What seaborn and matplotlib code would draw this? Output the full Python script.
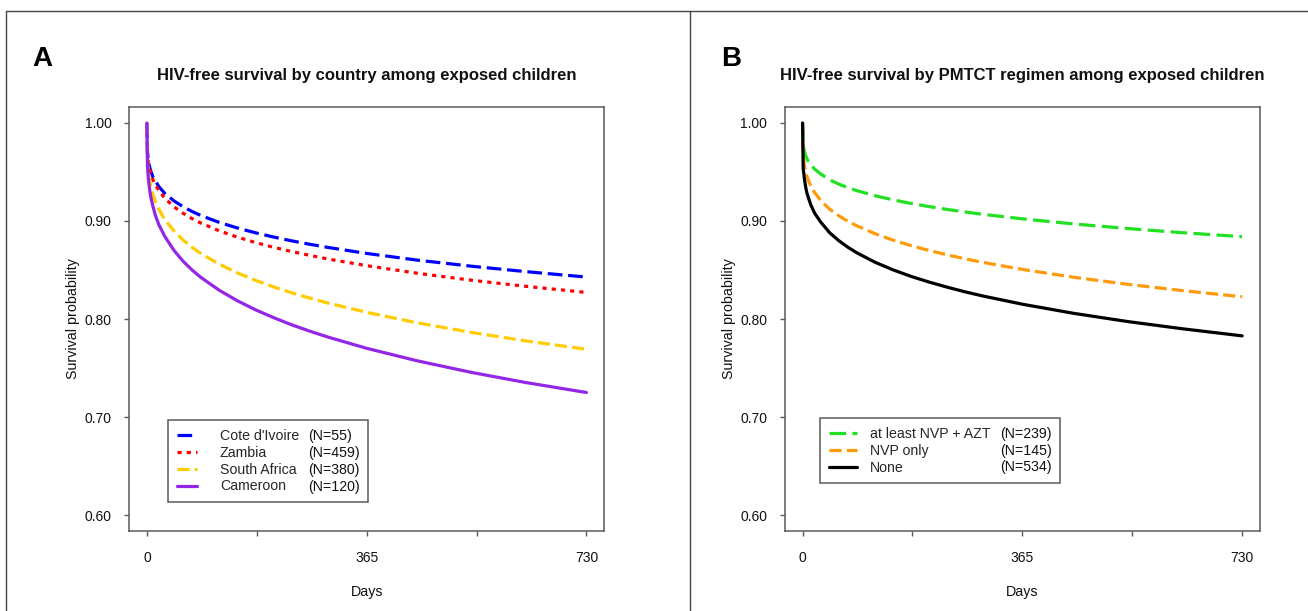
import matplotlib
matplotlib.use("Agg")
import matplotlib.pyplot as plt
import pandas as pd
import seaborn as sns
from matplotlib.lines import Line2D

# ---------------- data ----------------
days = [0, 1, 2, 3, 5, 7, 10, 14, 20, 30, 45, 60, 75, 90, 120, 150, 180, 210,
        240, 270, 300, 365, 450, 540, 630, 730]

# Panel A: HIV-free survival by country
countries = ["Cote d'Ivoire", "Zambia", "South Africa", "Cameroon"]
countries_n = ["(N=55)", "(N=459)", "(N=380)", "(N=120)"]
cote_divoire = [1.000, 0.970, 0.964, 0.960, 0.954, 0.950, 0.945, 0.941, 0.935, 0.928, 0.9205,
                0.9146, 0.9097, 0.9055, 0.8986, 0.8929, 0.8880, 0.8837, 0.8798, 0.8763, 0.8731,
                0.8669, 0.8600, 0.8538, 0.8483, 0.8428]
zambia = [1.000, 0.969, 0.962, 0.958, 0.952, 0.947, 0.942, 0.937, 0.931, 0.923, 0.9145,
          0.9079, 0.9024, 0.8978, 0.8900, 0.8836, 0.8781, 0.8732, 0.8689, 0.8650, 0.8613,
          0.8544, 0.8466, 0.8395, 0.8333, 0.8271]
south_africa = [1.000, 0.962, 0.954, 0.948, 0.940, 0.934, 0.927, 0.920, 0.912, 0.901, 0.8900,
                0.8806, 0.8731, 0.8667, 0.8560, 0.8471, 0.8395, 0.8328, 0.8268, 0.8214, 0.8164,
                0.8068, 0.7960, 0.7862, 0.7776, 0.7691]
cameroon = [1.000, 0.956, 0.947, 0.940, 0.930, 0.923, 0.915, 0.906, 0.896, 0.884, 0.8700,
            0.8590, 0.8500, 0.8423, 0.8294, 0.8187, 0.8095, 0.8015, 0.7942, 0.7877, 0.7817,
            0.7701, 0.7572, 0.7454, 0.7351, 0.7250]

# Panel B: HIV-free survival by PMTCT regimen
regimens = ["at least NVP + AZT", "NVP only", "None"]
regimens_n = ["(N=239)", "(N=145)", "(N=534)"]
nvp_azt = [1.000, 0.978, 0.974, 0.971, 0.967, 0.964, 0.960, 0.957, 0.953, 0.948, 0.9420,
           0.9377, 0.9341, 0.9310, 0.9258, 0.9216, 0.9179, 0.9147, 0.9118, 0.9092, 0.9068,
           0.9022, 0.8970, 0.8923, 0.8881, 0.8840]
nvp_only = [1.000, 0.968, 0.961, 0.957, 0.950, 0.946, 0.941, 0.935, 0.929, 0.921, 0.9120,
            0.9054, 0.8998, 0.8951, 0.8871, 0.8805, 0.8749, 0.8699, 0.8655, 0.8614, 0.8577,
            0.8506, 0.8426, 0.8354, 0.8290, 0.8227]
no_regimen = [1.000, 0.953, 0.949, 0.943, 0.935, 0.929, 0.923, 0.916, 0.908, 0.899, 0.8880,
              0.8800, 0.8733, 0.8676, 0.8580, 0.8502, 0.8435, 0.8377, 0.8325, 0.8277, 0.8234,
              0.8151, 0.8058, 0.7974, 0.7901, 0.7828]

y_ticks = [0.60, 0.70, 0.80, 0.90, 1.00]
y_ticklabels = ["0.60", "0.70", "0.80", "0.90", "1.00"]
x_ticks = [0, 182.5, 365, 547.5, 730]
x_ticklabels = ["0", "", "365", "", "730"]

titles = ["HIV-free survival by country among exposed children",
          "HIV-free survival by PMTCT regimen among exposed children"]
panel_letters = ["A", "B"]

# ---------------- style ----------------
sns.set_style("white")
plt.rcParams["font.family"] = ["Liberation Sans", "DejaVu Sans"]

W, H = 1308, 611
fig = plt.figure(figsize=(W / 100, H / 100), dpi=100)

GRAY = "#5a5a5a"
LW = 2.3

def make_df(names, series):
    rows = []
    for name, vals in zip(names, series):
        for d, v in zip(days, vals):
            rows.append({"day": d, "surv": v, "group": name})
    return pd.DataFrame(rows)

df_a = make_df(countries, [cote_divoire, zambia, south_africa, cameroon])
df_b = make_df(regimens, [nvp_azt, nvp_only, no_regimen])

pal_a = {"Cote d'Ivoire": "#0000ff", "Zambia": "#ff0000",
         "South Africa": "#ffcc00", "Cameroon": "#9426e8"}
dash_a = {"Cote d'Ivoire": (4.6, 1.8), "Zambia": (1.3, 1.6),
          "South Africa": (3.8, 1.6), "Cameroon": ""}
pal_b = {"at least NVP + AZT": "#22e022", "NVP only": "#ff9a0a", "None": "#000000"}
dash_b = {"at least NVP + AZT": (5.2, 2.0), "NVP only": (3.8, 1.6), "None": ""}

ax_w = 474.7 / W
ax_h = 423.4 / H
ax_bottom = 1 - 530.7 / H
axA = fig.add_axes([129.3 / W, ax_bottom, ax_w, ax_h])
axB = fig.add_axes([785.0 / W, ax_bottom, ax_w, ax_h])

panels = [
    (axA, df_a, countries, countries_n, pal_a, dash_a,
     (168, 368, 502), 1.44, 1.62, 308),
    (axB, df_b, regimens, regimens_n, pal_b, dash_b,
     (820, 1060, 483), 2.0, 0.92, 1000),
]

legends = []
for i, (ax, df, names, ns, pal, dsh, lbox, hlen, htp, nx) in enumerate(panels):
    sns.lineplot(data=df, x="day", y="surv", hue="group", style="group",
                 hue_order=names, style_order=names, palette=pal, dashes=dsh,
                 linewidth=LW, legend=False, ax=ax, sort=False)
    ax.set_xlim(-29.2, 759.2)
    ax.set_ylim(0.584, 1.016)
    ax.set_xticks(x_ticks)
    ax.set_xticklabels(x_ticklabels)
    ax.set_yticks(y_ticks)
    ax.set_yticklabels(y_ticklabels)
    ax.tick_params(axis="both", direction="out", colors=GRAY, labelcolor="#111111",
                   labelsize=10, width=1.0)
    ax.tick_params(axis="y", length=3.8, pad=8.9, left=True)
    ax.tick_params(axis="x", length=3.5, pad=11, bottom=True)
    for sp in ax.spines.values():
        sp.set_color(GRAY)
        sp.set_linewidth(1.1)
    ax.set_xlabel("Days", fontsize=10.3, color="#111111")
    ax.set_ylabel("Survival probability", fontsize=10.3, color="#111111")
    ax.xaxis.set_label_coords(0.5, -0.128)
    ax.yaxis.set_label_coords(-0.104, 0.5)

    # title
    pos = ax.get_position()
    fig.text(pos.x0 + pos.width / 2, 1 - 80 / H, titles[i], ha="center",
             va="baseline", fontsize=12, fontweight="bold", color="#111111")

    handles = [Line2D([0], [0], color=pal[n], lw=LW,
                      dashes=(dsh[n] if dsh[n] != "" else (None, None)),
                      linestyle="--" if dsh[n] != "" else "-") for n in names]
    lx0, lx1, lyb = lbox
    leg = ax.legend(handles, names, loc="lower left",
                    bbox_to_anchor=((lx0 - pos.x0 * W) / (pos.width * W),
                                    (530.7 - lyb) / 423.4,
                                    (lx1 - lx0) / (pos.width * W), 0.0),
                    mode="expand", borderaxespad=0, fontsize=10.2,
                    handlelength=hlen, handletextpad=htp, labelspacing=0.21,
                    borderpad=0.6, fancybox=False, framealpha=1,
                    edgecolor=GRAY)
    leg.get_frame().set_linewidth(1.1)
    legends.append((leg, ns, nx))

fig.text(32 / W, 1 - 66 / H, panel_letters[0], fontsize=20, fontweight="bold",
         ha="left", va="baseline", color="#000000")
fig.text(721 / W, 1 - 66 / H, panel_letters[1], fontsize=20, fontweight="bold",
         ha="left", va="baseline", color="#000000")

# panel frame lines
frame_kw = dict(color="#444444", lw=1.0, transform=fig.transFigure)
fig.add_artist(Line2D([6 / W, 1.0], [1 - 11 / H, 1 - 11 / H], **frame_kw))
fig.add_artist(Line2D([6 / W, 6 / W], [0, 1 - 11 / H], **frame_kw))
fig.add_artist(Line2D([690 / W, 690 / W], [0, 1 - 11 / H], **frame_kw))

# sample-size column inside legends, sharing each label's baseline
fig.canvas.draw()
for leg, ns, nx in legends:
    for t, n in zip(leg.get_texts(), ns):
        _, yb = t.get_transform().transform(t.get_position())
        fig.text(nx / W, round(yb) / H, n, ha="left", va="baseline", fontsize=10.2,
                 color="#111111")

fig.savefig("out.png", dpi=100)
